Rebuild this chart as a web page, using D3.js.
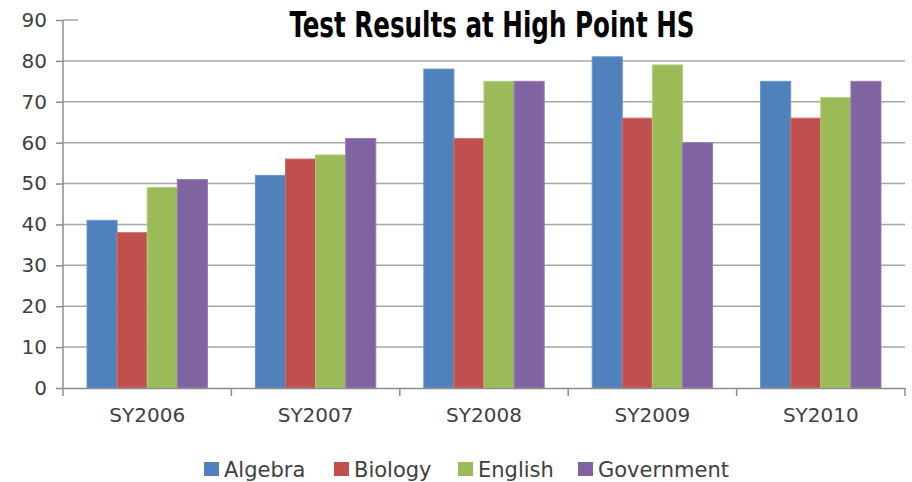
<!DOCTYPE html>
<html lang="en">
<head>
    <meta charset="UTF-8">
    <script src="https://cdnjs.cloudflare.com/ajax/libs/d3/7.8.5/d3.min.js"></script>
    <style>
        body { margin: 0; background: #fff; }
        .tick text { fill: #404040; font-family: "DejaVu Sans", Verdana, sans-serif; }
    </style>
</head>
<body>
    <svg id="chart" width="912" height="482"></svg>
    <script>
        const years = ['SY2006', 'SY2007', 'SY2008', 'SY2009', 'SY2010'];
        const subjects = ['Algebra', 'Biology', 'English', 'Government'];
        const algebra = [41, 52, 78, 81, 75];
        const biology = [38, 56, 61, 66, 66];
        const english = [49, 57, 75, 79, 71];
        const government = [51, 61, 75, 60, 75];
        const yTicks = [0, 10, 20, 30, 40, 50, 60, 70, 80, 90];

        const colors = ['#4F81BD', '#C0504D', '#9BBB59', '#8064A2'];
        const borders = ['#6A95CC', '#CF6D6A', '#B0CC78', '#957CB5'];

        const values = [algebra, biology, english, government];
        const rows = years.map((yr, i) => ({ year: yr, vals: subjects.map((s, j) => ({ key: s, idx: j, v: values[j][i] })) }));

        const svg = d3.select('#chart');
        const plotLeft = 63, plotRight = 905, plotTop = 20, plotBottom = 388;

        const x = d3.scaleBand().domain(years).range([plotLeft, plotRight]);
        const x1 = d3.scaleBand().domain(subjects).range([24, x.bandwidth() - 24]);
        const y = d3.scaleLinear().domain([0, 90]).range([plotBottom, plotTop]);

        // gridlines
        svg.append('g')
            .selectAll('line')
            .data(yTicks.slice(1))
            .join('line')
            .attr('x1', plotLeft).attr('x2', plotRight)
            .attr('y1', d => y(d)).attr('y2', d => y(d))
            .attr('stroke', '#A6A6A6')
            .attr('stroke-width', 1.5);

        // y axis
        const yAxis = d3.axisLeft(y).tickValues(yTicks).tickSize(7).tickPadding(9);
        const yG = svg.append('g').attr('transform', `translate(${plotLeft},0)`).call(yAxis);
        yG.select('.domain').remove();
        yG.selectAll('.tick line').attr('stroke', '#8C8C8C').attr('stroke-width', 1.5);
        yG.selectAll('.tick text').style('font-size', '20px');
        svg.append('line')
            .attr('x1', plotLeft).attr('x2', plotLeft)
            .attr('y1', plotTop).attr('y2', plotBottom + 8)
            .attr('stroke', '#8C8C8C').attr('stroke-width', 1.5);

        // bars
        svg.append('g')
            .selectAll('g')
            .data(rows)
            .join('g')
            .attr('transform', d => `translate(${x(d.year)},0)`)
            .selectAll('rect')
            .data(d => d.vals)
            .join('rect')
            .attr('x', d => x1(d.key))
            .attr('width', x1.bandwidth())
            .attr('y', d => y(d.v))
            .attr('height', d => y(0) - y(d.v))
            .attr('fill', d => colors[d.idx])
            .attr('stroke', d => borders[d.idx])
            .attr('stroke-width', 1);

        // x axis
        const xAxis = d3.axisBottom(x).tickSize(0).tickPadding(20);
        const xG = svg.append('g').attr('transform', `translate(0,${plotBottom})`).call(xAxis);
        xG.select('.domain').attr('stroke', '#8C8C8C').attr('stroke-width', 1.5);
        xG.selectAll('.tick text').style('font-size', '20px');
        svg.append('g')
            .selectAll('line')
            .data(years.slice(1).concat(['end']))
            .join('line')
            .attr('x1', d => d === 'end' ? plotRight : x(d))
            .attr('x2', d => d === 'end' ? plotRight : x(d))
            .attr('y1', plotBottom).attr('y2', plotBottom + 8)
            .attr('stroke', '#8C8C8C').attr('stroke-width', 1.5);

        // title box
        svg.append('rect')
            .attr('x', 78).attr('y', 4).attr('width', 830).attr('height', 36)
            .attr('fill', '#fff');
        svg.append('text')
            .attr('x', 492).attr('y', 37)
            .attr('text-anchor', 'middle')
            .attr('textLength', 405)
            .attr('lengthAdjust', 'spacingAndGlyphs')
            .style('font-family', '"Liberation Sans Narrow", "DejaVu Sans Condensed", sans-serif')
            .style('font-weight', 'bold')
            .style('font-size', '35px')
            .style('fill', '#000')
            .text('Test Results at High Point HS');

        // legend
        const legendX = [204, 334, 458, 578];
        const lg = svg.append('g')
            .selectAll('g')
            .data(subjects)
            .join('g')
            .attr('transform', (d, i) => `translate(${legendX[i]},462)`);
        lg.append('rect')
            .attr('width', 15).attr('height', 14)
            .attr('fill', (d, i) => colors[i]);
        lg.append('text')
            .attr('x', 20).attr('y', 14.5)
            .style('font-family', '"DejaVu Sans", Verdana, sans-serif')
            .style('font-size', '21px')
            .style('fill', '#404040')
            .text(d => d);
    </script>
</body>
</html>
